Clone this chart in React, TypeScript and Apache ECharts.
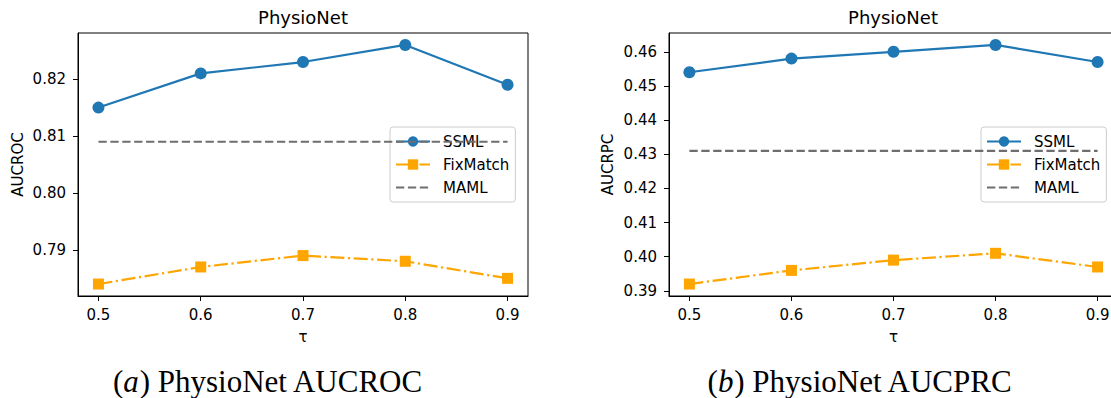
import React, { useEffect, useRef } from 'react';
import * as echarts from 'echarts';

const tau = [0.5, 0.6, 0.7, 0.8, 0.9];
const tauTicks = [0.5, 0.6, 0.7, 0.8, 0.9];

const rocSSML = [0.815, 0.821, 0.823, 0.826, 0.819];
const rocFixMatch = [0.784, 0.787, 0.789, 0.788, 0.785];
const rocMAML = 0.809;
const rocTicks = [0.79, 0.8, 0.81, 0.82];

const prcSSML = [0.454, 0.458, 0.46, 0.462, 0.457];
const prcFixMatch = [0.392, 0.396, 0.399, 0.401, 0.397];
const prcMAML = 0.431;
const prcTicks = [0.39, 0.4, 0.41, 0.42, 0.43, 0.44, 0.45, 0.46];

const seriesNames = ['SSML', 'FixMatch', 'MAML'];
const panelTitles = ['PhysioNet', 'PhysioNet'];
const yNames = ['AUCROC', 'AUCRPC'];
const captions = ['PhysioNet AUCROC', 'PhysioNet AUCPRC'];
const captionLetters = ['a', 'b'];

const BLUE = '#1f77b4';
const ORANGE = '#ffa500';
const GRAY = '#6e6e6e';
const SANS = 'DejaVu Sans';

function padRange(vals: number[]) {
  const lo = Math.min(...vals);
  const hi = Math.max(...vals);
  const m = (hi - lo) * 0.05;
  return [lo - m, hi + m];
}

export default function App() {
  const ref = useRef<HTMLDivElement>(null);
  useEffect(() => {
    if (!ref.current) return;
    const chart = echarts.init(ref.current, undefined, { renderer: 'svg' });

    const panels = [
      { ssml: rocSSML, fix: rocFixMatch, maml: rocMAML, ticks: rocTicks, left: 78, width: 450, nameGap: 53, legendLeft: 390, title: 303, cap: 268 },
      { ssml: prcSSML, fix: prcFixMatch, maml: prcMAML, ticks: prcTicks, left: 669, width: 449, nameGap: 54, legendLeft: 981, title: 893, cap: 860 },
    ];

    const xr = padRange(tau);

    const grid = panels.map((p) => ({
      left: p.left, top: 33, width: p.width, height: 263,
      show: true, borderColor: '#000', borderWidth: 1, backgroundColor: 'transparent',
      containLabel: false, outerBoundsMode: 'none',
    }));

    const xAxis = panels.map((p, i) => ({
      type: 'value', gridIndex: i, min: xr[0], max: xr[1],
      axisLine: { show: true, onZero: false, lineStyle: { color: '#000', width: 1 } },
      axisTick: { show: true, customValues: tauTicks, length: 5, lineStyle: { color: '#000', width: 1 } },
      axisLabel: { customValues: tauTicks, formatter: (v: number) => v.toFixed(1), fontSize: 15, color: '#000', fontFamily: SANS, margin: 11 },
      splitLine: { show: false },
      name: 'τ', nameLocation: 'middle', nameGap: 33,
      nameTextStyle: { fontSize: 15, color: '#000', fontFamily: SANS },
    }));

    const yAxis = panels.map((p, i) => {
      const r = padRange([...p.ssml, ...p.fix, p.maml]);
      return {
        type: 'value', gridIndex: i, min: r[0], max: r[1],
        axisLine: { show: true, onZero: false, lineStyle: { color: '#000', width: 1 } },
        axisTick: { show: true, customValues: p.ticks, length: 5, lineStyle: { color: '#000', width: 1 } },
        axisLabel: { customValues: p.ticks, formatter: (v: number) => v.toFixed(2), fontSize: 15, color: '#000', fontFamily: SANS, margin: 12 },
        splitLine: { show: false },
        name: yNames[i], nameLocation: 'middle', nameGap: p.nameGap,
        nameTextStyle: { fontSize: 15, color: '#000', fontFamily: SANS },
      };
    });

    const series: any[] = [];
    panels.forEach((p, i) => {
      series.push({
        name: seriesNames[0], type: 'line', xAxisIndex: i, yAxisIndex: i,
        data: tau.map((t, k) => [t, p.ssml[k]]),
        symbol: 'circle', symbolSize: 12, showSymbol: true,
        itemStyle: { color: BLUE }, lineStyle: { color: BLUE, width: 2.2 }, z: 3,
      });
      series.push({
        name: seriesNames[1], type: 'line', xAxisIndex: i, yAxisIndex: i,
        data: tau.map((t, k) => [t, p.fix[k]]),
        symbol: 'rect', symbolSize: 11, showSymbol: true,
        itemStyle: { color: ORANGE }, lineStyle: { color: ORANGE, width: 2.2, type: [14, 3.6, 2.2, 3.6] }, z: 3,
      });
      series.push({
        name: seriesNames[2], type: 'line', xAxisIndex: i, yAxisIndex: i,
        data: tau.map((t) => [t, p.maml]),
        symbol: 'none',
        itemStyle: { color: GRAY }, lineStyle: { color: GRAY, width: 2.2, type: [8.3, 3.6] }, z: 4,
      });
    });

    const legend = panels.map((p) => ({
      data: [
        seriesNames[0],
        seriesNames[1],
        { name: seriesNames[2], itemStyle: { opacity: 0 } },
      ],
      left: p.legendLeft, top: 127, orient: 'vertical',
      itemWidth: 34, itemHeight: 13, itemGap: 8,
      padding: [7, 6, 7, 5],
      backgroundColor: 'rgba(255,255,255,0.8)', borderColor: '#cccccc', borderWidth: 1, borderRadius: 3,
      textStyle: { fontSize: 15, color: '#000', fontFamily: SANS, padding: [0, 0, 0, 8] },
      selectedMode: false,
    }));

    const graphic: any[] = [];
    panels.forEach((p, i) => {
      graphic.push({
        type: 'text', x: p.title, y: 17,
        style: { text: panelTitles[i], fill: '#000', fontSize: 18, fontFamily: SANS, align: 'center', verticalAlign: 'middle' },
      });
      graphic.push({
        type: 'text', x: p.cap, y: 381,
        style: {
          text: '({i|' + captionLetters[i] + '}) ' + captions[i],
          fill: '#000', fontSize: 31, fontFamily: 'Liberation Serif', align: 'center', verticalAlign: 'middle',
          rich: { i: { fontStyle: 'italic', fontSize: 31, fontFamily: 'Liberation Serif', fill: '#000' } },
        },
      });
    });

    chart.setOption({
      animation: false,
      backgroundColor: '#fff',
      grid, xAxis, yAxis, series, legend, graphic,
    });
    return () => chart.dispose();
  }, []);
  return <div ref={ref} style={{ position: 'absolute', left: 0, top: 0, width: 1111, height: 398 }} />;
}
